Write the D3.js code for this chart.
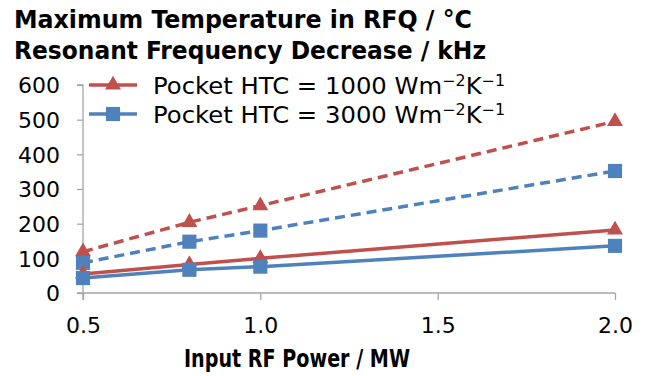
<!DOCTYPE html>
<html><head><meta charset="utf-8">
<script src="https://cdn.jsdelivr.net/npm/d3@7"></script>
<style>body{margin:0;background:#fff}svg{display:block}</style>
</head><body>
<script>
const power = [0.5, 0.8, 1.0, 2.0];
const tempHTC1000 = [119, 204, 252, 495];
const tempHTC3000 = [87, 148, 180, 352];
const freqHTC1000 = [55, 82, 100, 182];
const freqHTC3000 = [43, 67, 76, 136];
const yTicks = [0, 100, 200, 300, 400, 500, 600];
const xTicks = [0.5, 1.0, 1.5, 2.0];
const titleLines = ["Maximum Temperature in RFQ / °C", "Resonant Frequency Decrease / kHz"];
const xTitle = "Input RF Power / MW";
const legendLabels = ["Pocket HTC = 1000 Wm", "Pocket HTC = 3000 Wm"];

const W = 646, H = 376;
const red = "#C0504D", blue = "#4F81BD";
const svg = d3.select("body").append("svg").attr("width", W).attr("height", H);
const boldFont = "'DejaVu Sans Condensed','DejaVu Sans',sans-serif";
const font = "'DejaVu Sans',sans-serif";

const x = d3.scaleLinear().domain([0.5, 2.0]).range([83, 615]);
const y = d3.scaleLinear().domain([0, 600]).range([293, 85]);

// titles
svg.selectAll("text.title").data(titleLines).join("text")
  .attr("class", "title")
  .attr("x", 14).attr("y", (d, i) => 27.5 + i * 31.5)
  .attr("font-family", boldFont).attr("font-weight", "bold").attr("font-size", 24)
  .attr("textLength", (d, i) => i === 0 ? 458 : 472).attr("lengthAdjust", "spacingAndGlyphs")
  .attr("fill", "#000").text(d => d);

// axes
const axisColor = "#a6a6a6";
const yAxis = svg.append("g").attr("transform", `translate(${x(0.5)},0)`)
  .call(d3.axisLeft(y).tickValues(yTicks).tickSize(6).tickPadding(17).tickFormat(d3.format("d")));
const xAxis = svg.append("g").attr("transform", `translate(0,${y(0)})`)
  .call(d3.axisBottom(x).tickValues(xTicks).tickSize(7).tickPadding(17).tickFormat(d3.format(".1f")));
[yAxis, xAxis].forEach(g => {
  g.select(".domain").attr("stroke", axisColor).attr("stroke-width", 1.3);
  g.selectAll(".tick line").attr("stroke", axisColor).attr("stroke-width", 1.3);
  g.selectAll(".tick text").attr("font-family", font).attr("font-size", 22).attr("fill", "#000");
});
yAxis.selectAll(".tick text").attr("dy", "0.36em");
yAxis.select(".domain").attr("d", `M-6,${y(600)}H0V${y(0) + 7}`);
xAxis.select(".domain").attr("d", `M${x(0.5) - 6},0H${x(2.0)}`);

// x title
svg.append("text").attr("x", 297).attr("y", 367).attr("text-anchor", "middle")
  .attr("font-family", boldFont).attr("font-weight", "bold").attr("font-size", 24)
  .attr("textLength", 226).attr("lengthAdjust", "spacingAndGlyphs")
  .text(xTitle);

const series = [
  { vals: tempHTC1000, color: red, dash: "10,6", marker: "tri" },
  { vals: tempHTC3000, color: blue, dash: "10,6", marker: "sq" },
  { vals: freqHTC1000, color: red, dash: null, marker: "tri" },
  { vals: freqHTC3000, color: blue, dash: null, marker: "sq" }
];
const line = d3.line().x(d => x(d[0])).y(d => y(d[1]));
const triSym = d3.symbol().type(d3.symbolTriangle).size(110);
const sqSym = d3.symbol().type(d3.symbolSquare).size(200);

series.forEach(s => {
  const pts = power.map((p, i) => [p, s.vals[i]]);
  svg.append("path").datum(pts).attr("d", line).attr("fill", "none")
    .attr("stroke", s.color).attr("stroke-width", 3.5)
    .attr("stroke-dasharray", s.dash);
  svg.selectAll(null).data(pts).join("path")
    .attr("transform", d => `translate(${x(d[0])},${y(d[1])})`)
    .attr("d", s.marker === "tri" ? triSym() : sqSym())
    .attr("fill", s.color);
});

// legend
const legend = [
  { label: legendLabels[0], color: red, marker: "tri", yy: 85 },
  { label: legendLabels[1], color: blue, marker: "sq", yy: 114 }
];
legend.forEach(l => {
  svg.append("line").attr("x1", 89).attr("x2", 137).attr("y1", l.yy).attr("y2", l.yy)
    .attr("stroke", l.color).attr("stroke-width", 3.5);
  svg.append("path").attr("transform", `translate(113,${l.yy})`)
    .attr("d", l.marker === "tri" ? triSym() : sqSym()).attr("fill", l.color);
  const t = svg.append("text").attr("x", 153).attr("y", l.yy + 8.5)
    .attr("font-family", font).attr("font-size", 23).attr("fill", "#000")
    .attr("textLength", 352).attr("lengthAdjust", "spacingAndGlyphs");
  t.append("tspan").text(l.label);
  t.append("tspan").attr("dy", -8).attr("font-size", 15).text("\u22122");
  t.append("tspan").attr("dy", 8).text("K");
  t.append("tspan").attr("dy", -8).attr("font-size", 15).text("\u22121");
});
</script>
</body></html>
